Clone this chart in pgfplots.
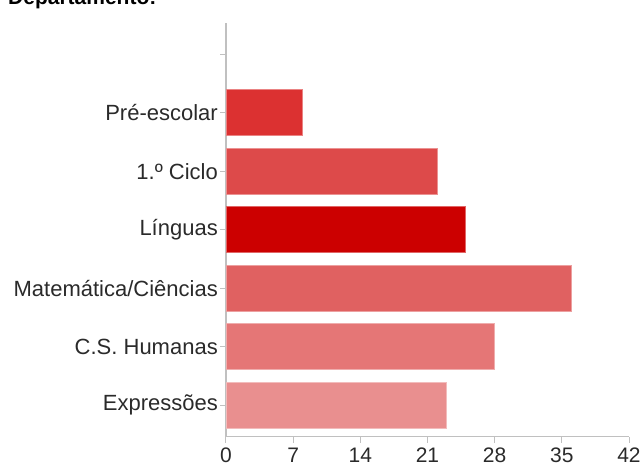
\documentclass[border=0pt]{standalone}
\usepackage{pgfplots}
\pgfplotsset{compat=1.18}
\usepackage{fontspec}
\setmainfont{Liberation Sans}
\definecolor{cPre}{HTML}{DC3131}
\definecolor{cCiclo}{HTML}{DD4A4A}
\definecolor{cLing}{HTML}{CC0000}
\definecolor{cMat}{HTML}{E06161}
\definecolor{cHum}{HTML}{E57676}
\definecolor{cExp}{HTML}{E98F8F}
\definecolor{axgray}{HTML}{C0C0C0}
\definecolor{txt}{HTML}{2A2A2A}
\begin{document}
\begin{tikzpicture}[x=1pt,y=1pt]
\node[anchor=base west,inner sep=0pt,font=\fontsize{21}{25}\selectfont\bfseries] at (8,-4.5) {Departamento:};
\begin{axis}[
  at={(226pt,-436.7pt)}, anchor=south west,
  scale only axis, width=403pt, height=414pt,
  xbar, bar width=46pt, bar shift=0pt,
  xmin=0, xmax=42, ymin=-0.54, ymax=6.54,
  xtick={0,7,14,21,28,35,42},
  ytick={0,1,2,3,4,5,6},
  yticklabels={Expressões,C.S. Humanas,Matemática/Ciências,Línguas,1.º Ciclo,Pré-escolar,{}},
  axis x line*=bottom, axis y line*=left,
  axis line style={axgray, line width=1.2pt},
  every tick/.style={axgray, line width=1pt},
  tick align=outside, major tick length=6pt,
  x axis line style={-}, y axis line style={-},
  xticklabel style={font=\fontsize{21}{25}\selectfont, text=txt, inner sep=2pt, yshift=-3pt},
  yticklabel style={font=\fontsize{22}{26}\selectfont, text=txt, inner sep=2pt},
  /pgf/number format/assume math mode=true,
  clip=false,
]
\addplot[fill=cExp, draw=cExp!60!white, line width=0.8pt] coordinates {(23,0)};
\addplot[fill=cHum, draw=cHum!60!white, line width=0.8pt] coordinates {(28,1)};
\addplot[fill=cMat, draw=cMat!60!white, line width=0.8pt] coordinates {(36,2)};
\addplot[fill=cLing, draw=cLing!60!white, line width=0.8pt] coordinates {(25,3)};
\addplot[fill=cCiclo, draw=cCiclo!60!white, line width=0.8pt] coordinates {(22,4)};
\addplot[fill=cPre, draw=cPre!60!white, line width=0.8pt] coordinates {(8,5)};
\end{axis}
\pgfresetboundingbox
\path[use as bounding box] (0pt,0pt) rectangle (643pt,-467pt);
\end{tikzpicture}
\end{document}
